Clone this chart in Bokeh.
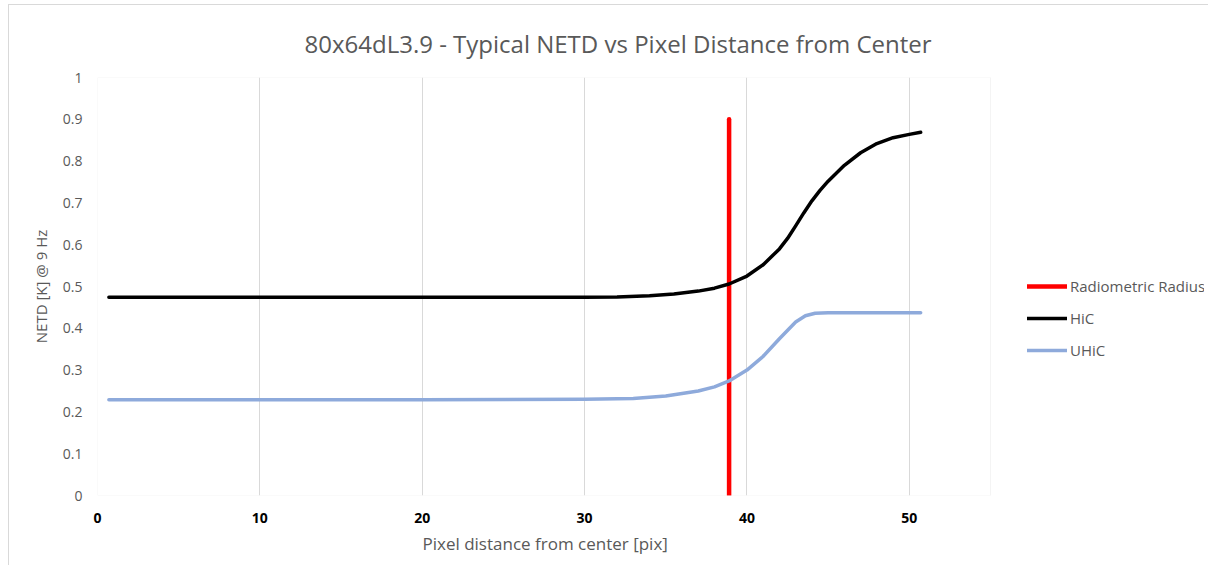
from bokeh.plotting import figure
from bokeh.models import Legend, LegendItem, FixedTicker, Title, Range1d, BoxAnnotation
from bokeh.embed import file_html
from bokeh.resources import INLINE

# ---- data ----
radius_x = [38.9, 38.9]
radius_y = [0.0, 0.9]

hic_x = [0.7, 10, 20, 30, 32, 34, 35.5, 37, 38, 38.9, 40, 41, 42, 42.5, 43, 43.5, 44, 44.5,
         45, 46, 47, 48, 49, 50, 50.7]
hic_y = [0.474, 0.474, 0.474, 0.474, 0.475, 0.478, 0.482, 0.489, 0.496, 0.506, 0.525, 0.552,
         0.590, 0.615, 0.645, 0.676, 0.705, 0.730, 0.752, 0.790, 0.820, 0.842, 0.856, 0.864, 0.869]

uhic_x = [0.7, 10, 20, 30, 33, 35, 37, 38, 38.9, 40, 41, 42, 43, 43.6, 44.2, 45, 47, 50.7]
uhic_y = [0.229, 0.229, 0.229, 0.230, 0.232, 0.238, 0.250, 0.260, 0.274, 0.300, 0.333, 0.375,
          0.415, 0.430, 0.436, 0.437, 0.437, 0.437]

x_min, x_max = 0, 55
y_min, y_max = 0, 1
x_ticks = [0, 10, 20, 30, 40, 50]
x_tick_labels = ["0", "10", "20", "30", "40", "50"]
y_ticks = [0, 0.1, 0.2, 0.3, 0.4, 0.5, 0.6, 0.7, 0.8, 0.9, 1.0]
y_tick_labels = ["0", "0.1", "0.2", "0.3", "0.4", "0.5", "0.6", "0.7", "0.8", "0.9", "1"]

title_text = "80x64dL3.9 - Typical NETD vs Pixel Distance from Center"
x_label = "Pixel distance from center [pix]"
y_label = "NETD [K] @ 9 Hz"
legend_labels = ["Radiometric Radius", "HiC", "UHiC"]

FONT = "Open Sans"
GRAY = "#595959"

# ---- layout ----
W, H = 1200, 561
MB_L, MB_R, MB_T, MB_B = 88, 5, 72, 71
PLOT_W = 893           # pixel width of the visible plot area (x_min..x_max)
frame_w = W - MB_L - MB_R
# the frame is extended to the right so the legend can live inside it
x_view_end = x_min + (x_max - x_min) * frame_w / PLOT_W

p = figure(width=W, height=H, output_backend="svg", toolbar_location=None,
           x_range=Range1d(x_min, x_view_end), y_range=Range1d(y_min, y_max),
           min_border_left=MB_L, min_border_right=MB_R, min_border_top=MB_T,
           min_border_bottom=MB_B)

p.title = None
t = Title(text=title_text, align="left", text_font=FONT, text_font_size="24px",
          text_font_style="normal", text_color=GRAY, offset=207, standoff=36)
p.add_layout(t, "above")

p.outline_line_color = None
p.background_fill_color = "white"
p.border_fill_color = "white"
p.styles = {"margin-left": "8px", "margin-top": "4px",
            "border-top": "1px solid #d9d9d9", "border-left": "1px solid #d9d9d9"}

# plot-area border
p.add_layout(BoxAnnotation(left=x_min, right=x_max, bottom=y_min, top=y_max,
                           fill_alpha=0, line_color="#d9d9d9", line_width=1))

# grid
p.ygrid.visible = False
p.xgrid.ticker = FixedTicker(ticks=x_ticks)
p.xgrid.grid_line_color = "#d9d9d9"
p.xgrid.grid_line_width = 1

# axes
p.xaxis.ticker = FixedTicker(ticks=x_ticks)
p.xaxis.major_label_overrides = {t_: l for t_, l in zip(x_ticks, x_tick_labels)}
p.yaxis.ticker = FixedTicker(ticks=y_ticks)
p.yaxis.major_label_overrides = {t_: l for t_, l in zip(y_ticks, y_tick_labels)}
for ax in (p.xaxis[0], p.yaxis[0]):
    ax.axis_line_color = None
    ax.major_tick_line_color = None
    ax.minor_tick_line_color = None
    ax.major_tick_out = 0
    ax.major_tick_in = 0
    ax.minor_tick_out = 0
    ax.minor_tick_in = 0
    ax.major_label_text_font = FONT
    ax.major_label_text_font_size = "14px"
    ax.axis_label_text_font = FONT
    ax.axis_label_text_font_style = "normal"
    ax.axis_label_text_color = GRAY

p.xaxis.major_label_text_font_style = "bold"
p.xaxis.major_label_text_color = "black"
p.xaxis.major_label_standoff = 17

xt = Title(text=x_label, align="left", text_font=FONT, text_font_size="17px",
           text_font_style="normal", text_color=GRAY, offset=325, standoff=8)
p.add_layout(xt, "below")

p.yaxis.axis_label = y_label
p.yaxis.axis_label_text_font_size = "15px"
p.yaxis.major_label_text_color = GRAY
p.yaxis.major_label_standoff = 15
p.yaxis.axis_label_standoff = 9

r_rad = p.line(radius_x, radius_y, line_color="#ff0000", line_width=4.5, line_cap="round")
r_hic = p.line(hic_x, hic_y, line_color="black", line_width=3.5, line_cap="round", line_join="round")
r_uhic = p.line(uhic_x, uhic_y, line_color="#8eaadb", line_width=3.5, line_cap="round", line_join="round")

legend = Legend(items=[LegendItem(label=legend_labels[0], renderers=[r_rad]),
                       LegendItem(label=legend_labels[1], renderers=[r_hic]),
                       LegendItem(label=legend_labels[2], renderers=[r_uhic])],
                location=(930, 135), border_line_color=None, background_fill_alpha=0,
                label_text_font=FONT, label_text_font_size="15px", label_text_color=GRAY,
                glyph_width=40, glyph_height=20, spacing=12, label_standoff=3, padding=0,
                margin=0)
p.add_layout(legend, "center")

open("out.html", "w").write(file_html(p, INLINE))
